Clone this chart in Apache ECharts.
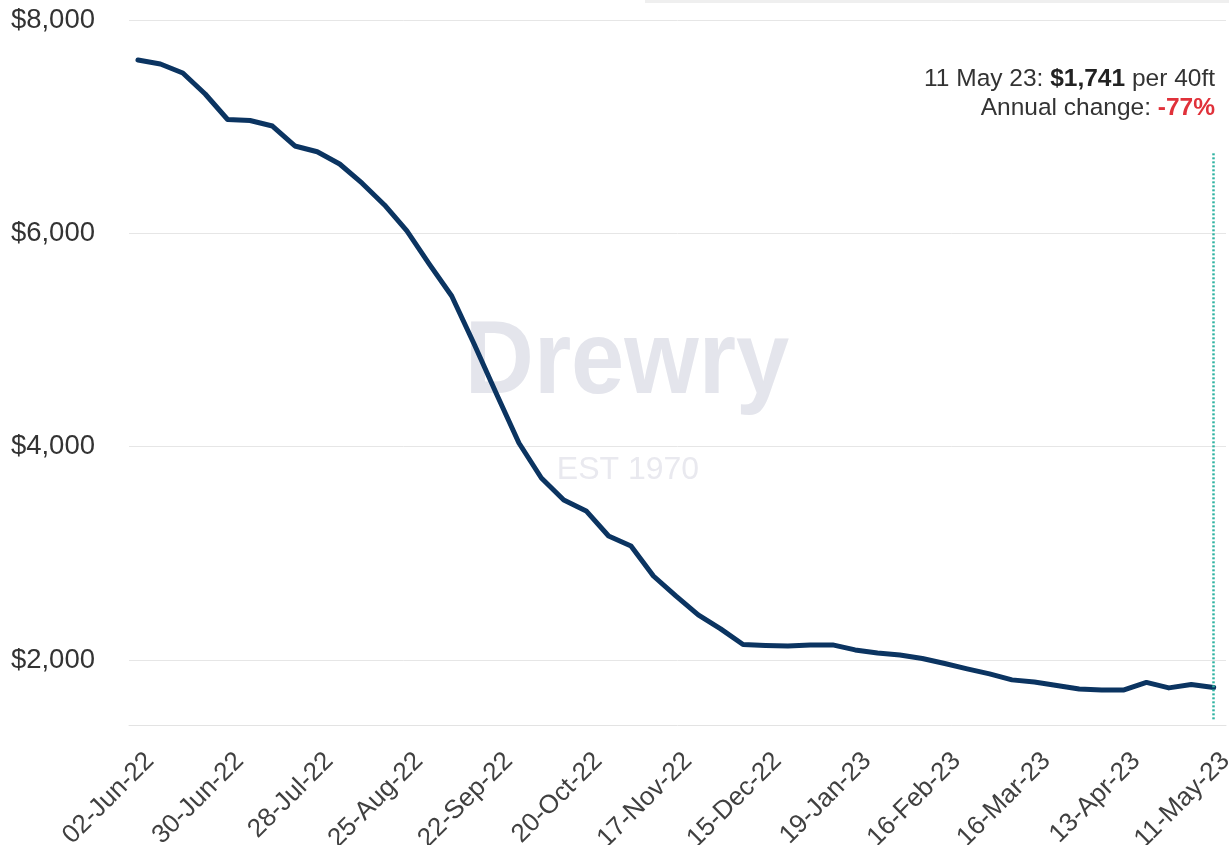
<!DOCTYPE html>
<html><head><meta charset="utf-8">
<script src="https://cdn.jsdelivr.net/npm/echarts@6/dist/echarts.min.js"></script>
<style>html,body{margin:0;padding:0;background:#fff}#c{width:1229px;height:845px}</style>
</head><body><div id="c"></div>
<script>
const dates = ['02-Jun-22','09-Jun-22','16-Jun-22','23-Jun-22','30-Jun-22','07-Jul-22','14-Jul-22','21-Jul-22',
  '28-Jul-22','04-Aug-22','11-Aug-22','18-Aug-22','25-Aug-22','01-Sep-22','08-Sep-22','15-Sep-22',
  '22-Sep-22','29-Sep-22','06-Oct-22','13-Oct-22','20-Oct-22','27-Oct-22','03-Nov-22','10-Nov-22',
  '17-Nov-22','24-Nov-22','01-Dec-22','08-Dec-22','15-Dec-22','22-Dec-22','05-Jan-23','12-Jan-23',
  '19-Jan-23','26-Jan-23','02-Feb-23','09-Feb-23','16-Feb-23','23-Feb-23','02-Mar-23','09-Mar-23',
  '16-Mar-23','23-Mar-23','30-Mar-23','06-Apr-23','13-Apr-23','20-Apr-23','27-Apr-23','04-May-23','11-May-23'];
const wci = [7625,7587,7503,7306,7067,7058,7006,6819,
  6765,6650,6470,6266,6022,5712,5412,4962,
  4494,4034,3706,3500,3397,3162,3069,2787,
  2600,2422,2291,2145,2136,2131,2141,2141,
  2094,2066,2047,2014,1967,1916,1869,1813,
  1794,1761,1728,1719,1719,1789,1738,1770,1741];
const yTicks = [2000,4000,6000,8000];
const xLabelIdx = [0,4,8,12,16,20,24,28,32,36,40,44,48];
const annualChange = -77;
const latestLabel = '11 May 23';

const FONT = '"Liberation Sans", Arial, sans-serif';
const last = wci.length - 1;
const fmt = v => '$' + Math.round(v).toLocaleString('en-US');

const chart = echarts.init(document.getElementById('c'), null, {renderer:'canvas'});
chart.setOption({
  animation: false,
  backgroundColor: '#ffffff',
  grid: [
    {left: 129, right: 3, top: 20, bottom: 120, outerBoundsMode: 'none', containLabel: false},
    {left: 141, right: -9, top: 20, bottom: 120, outerBoundsMode: 'none', containLabel: false}
  ],
  xAxis: [
    {type:'value', gridIndex:0, min:-0.4, max:48.55,
     axisLine:{show:true, lineStyle:{color:'#e3e3e3', width:1}},
     axisTick:{show:false}, axisLabel:{show:false}, splitLine:{show:false}},
    {type:'value', gridIndex:1, min:-0.4, max:48.55,
     axisLine:{show:false}, axisTick:{show:false, customValues:xLabelIdx},
     splitLine:{show:false},
     axisLabel:{show:true, customValues:xLabelIdx, rotate:45, margin:32, fontSize:26,
       fontFamily:FONT, color:'#404040', formatter: v => dates[v] || ''}}
  ],
  yAxis: [
    {type:'value', gridIndex:0, min:1390, max:8000,
     axisLine:{show:false}, axisTick:{show:false, customValues:yTicks},
     axisLabel:{customValues:yTicks, formatter: fmt, fontSize:27.5, fontFamily:FONT, color:'#333', margin:34},
     splitLine:{show:true, lineStyle:{color:'#e6e6e6', width:1}}},
    {type:'value', gridIndex:1, min:0, max:1, show:false}
  ],
  graphic: [
    {type:'rect', z:-5, shape:{x:645, y:0, width:584, height:3}, style:{fill:'#efefef'}},
    {type:'text', z:-1, x:627, y:364, scaleX:0.92, style:{text:'Drewry', align:'center', verticalAlign:'middle',
      font:'bold 104px ' + FONT, fill:'#e4e5ec'}},
    {type:'text', z:-1, x:628, y:470, style:{text:'EST 1970', align:'center', verticalAlign:'middle',
      font:'32px ' + FONT, fill:'#e9e9ef'}},
    {type:'text', z:10, x:1215, y:79, style:{
      text: latestLabel + ': {b|' + fmt(wci[last]) + '} per 40ft',
      align:'right', verticalAlign:'middle', font:'24.5px ' + FONT, fill:'#333',
      rich:{b:{fontWeight:'bold', fontSize:24.5, fontFamily:FONT, fill:'#222'}}}},
    {type:'text', z:10, x:1215, y:108, style:{
      text: 'Annual change: {r|' + annualChange + '%}',
      align:'right', verticalAlign:'middle', font:'24.5px ' + FONT, fill:'#333',
      rich:{r:{fontWeight:'bold', fontSize:24.5, fontFamily:FONT, fill:'#e0313a'}}}}
  ],
  series: [{
    type:'line', xAxisIndex:0, yAxisIndex:0,
    data: wci.map((v,i) => [i, v]),
    symbol:'none', smooth:false,
    lineStyle:{color:'#0b3461', width:5, cap:'round', join:'round'},
    markLine:{silent:true, symbol:'none', label:{show:false},
      lineStyle:{type:[2,2], color:'#2fb3a2', width:2.5},
      data:[[{coord:[last, 6750]}, {coord:[last, 1437]}]]}
  }]
});
</script></body></html>
